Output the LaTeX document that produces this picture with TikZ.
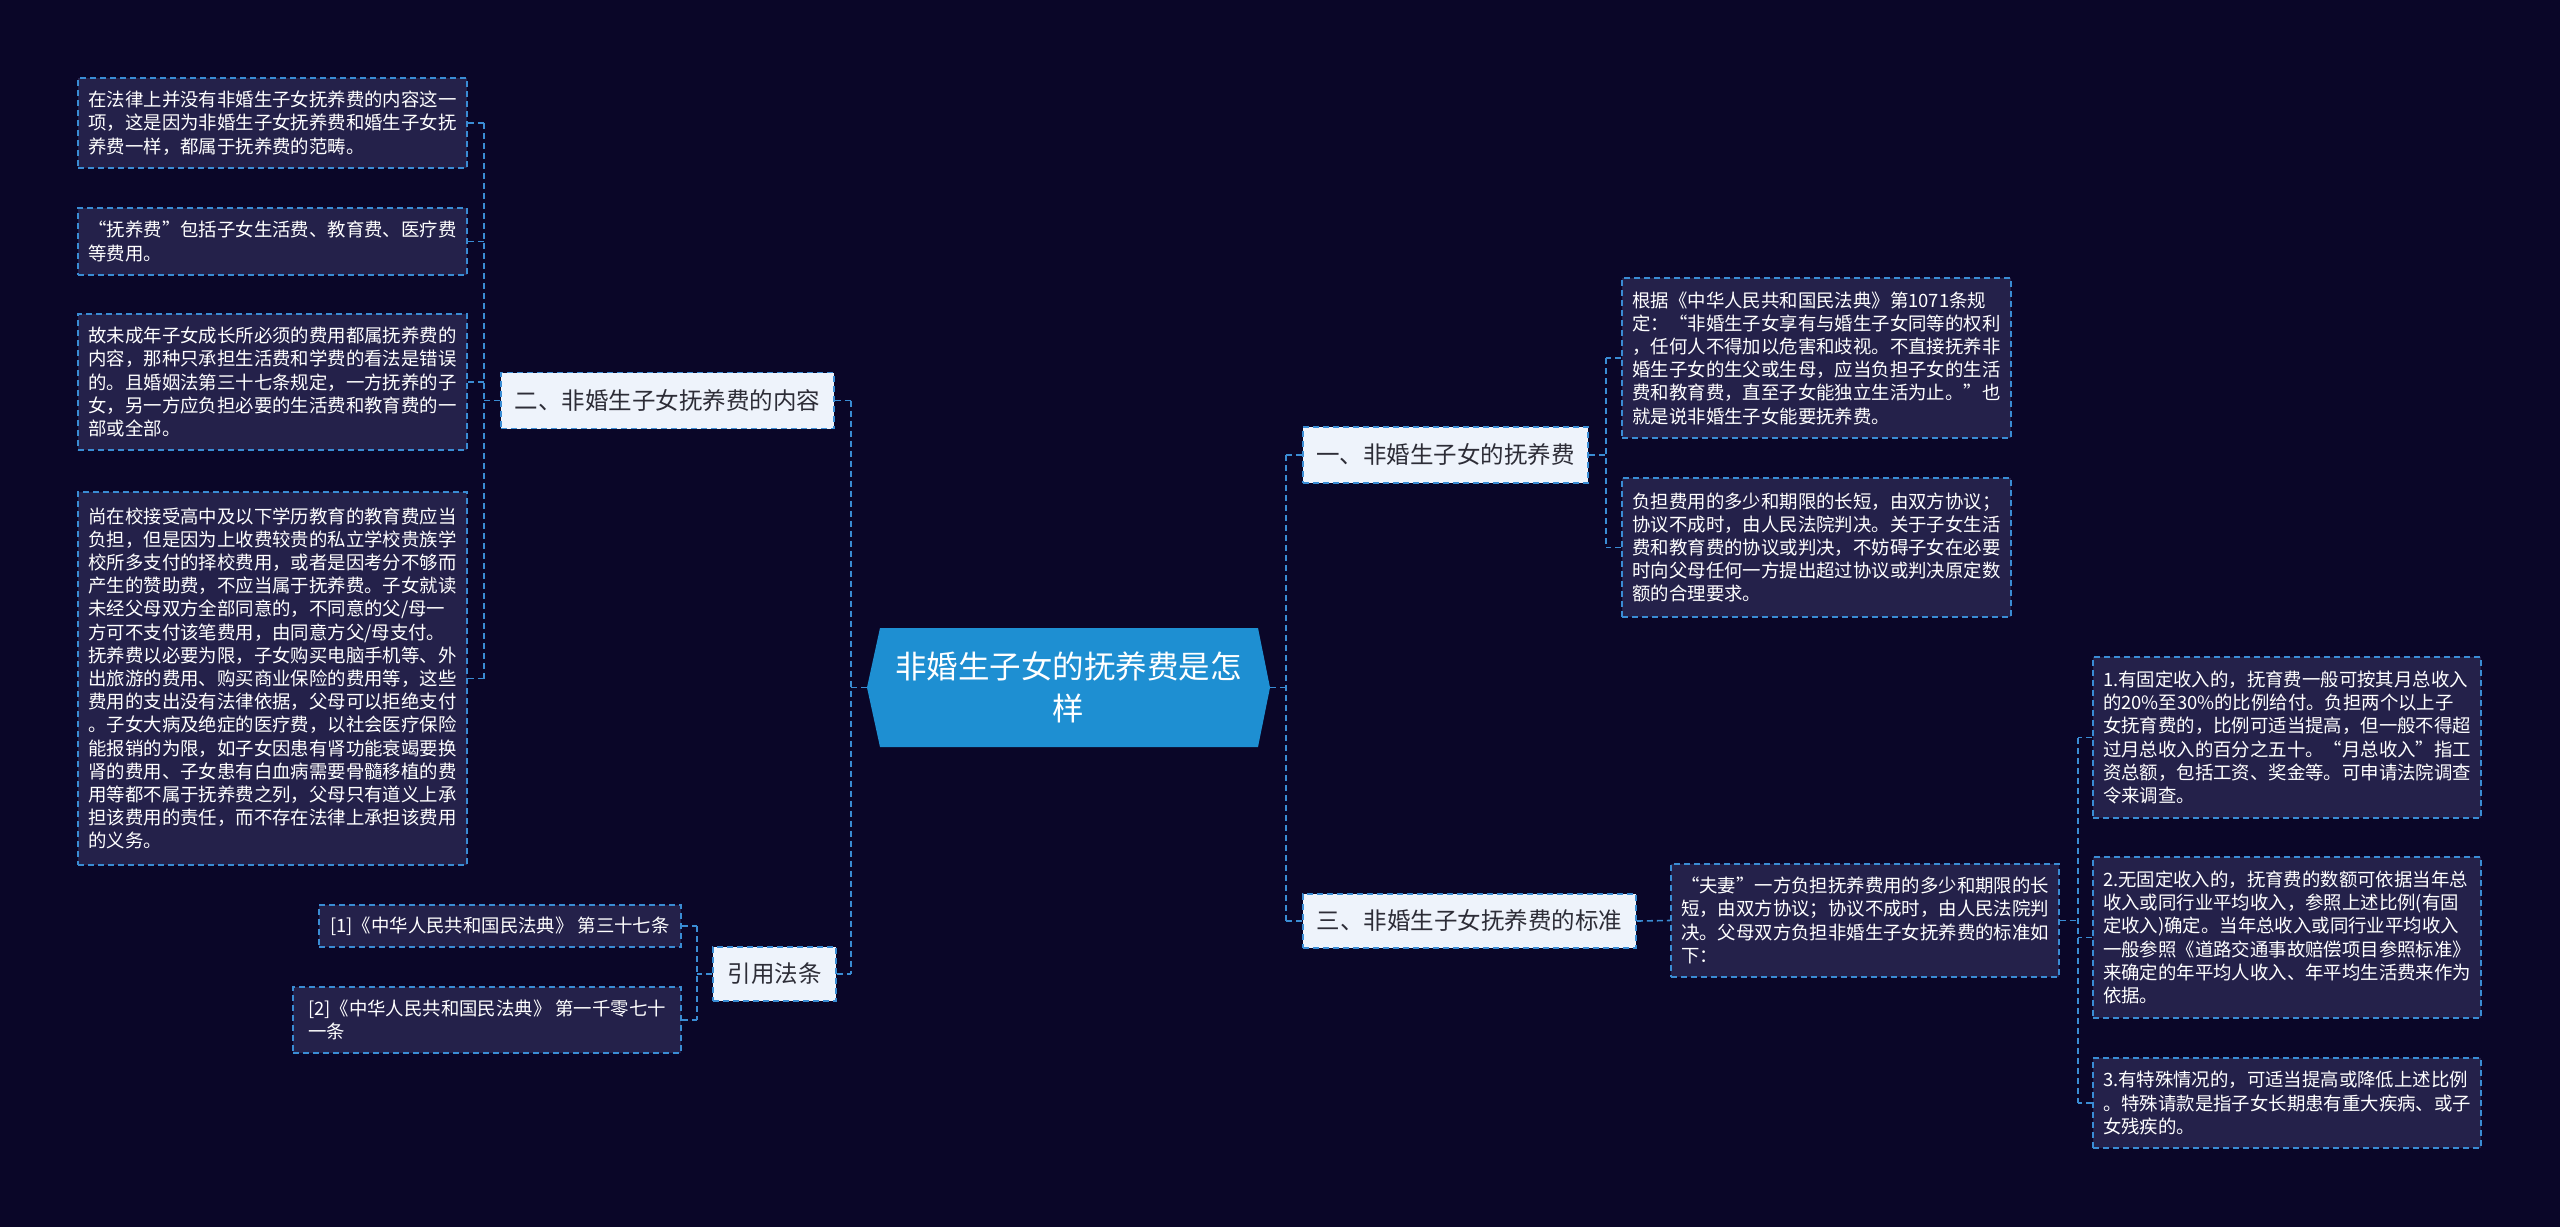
\documentclass[tikz,border=0pt]{standalone}
\usepackage{fontspec}
\setmainfont{Noto Sans CJK SC}
\usetikzlibrary{calc}
\definecolor{bgc}{RGB}{10,6,40}
\definecolor{leaffill}{RGB}{36,33,74}
\definecolor{linec}{RGB}{58,140,212}
\definecolor{branchfill}{RGB}{238,243,251}
\definecolor{branchtext}{RGB}{45,45,55}
\definecolor{centerfill}{RGB}{30,143,210}
\begin{document}
\begin{tikzpicture}[x=1pt,y=-1pt,
  leaf/.style={draw=linec, fill=leaffill, dash pattern=on 6pt off 4pt, line width=1.6pt,
    text=white, font=\fontsize{18.4}{23.2}\selectfont, align=left, inner sep=0pt},
  branch/.style={draw=linec, fill=branchfill, dash pattern=on 6pt off 4pt, line width=1.6pt,
    text=branchtext, font=\fontsize{23.5}{28}\selectfont, inner sep=0pt},
  conn/.style={draw=linec, dash pattern=on 6pt off 4pt, line width=1.6pt},
  centertext/.style={text=white, font=\fontsize{31.5}{41.5}\selectfont, align=center, inner sep=0pt}
]
\fill[bgc] (0,0) rectangle (2560,1227);
\useasboundingbox (0,0) rectangle (2560,1227);

% central node
\fill[centerfill] (880,628) -- (1258,628) -- (1270,687.5) -- (1258,747) -- (880,747) -- (867,687.5) -- cycle;
\node[centertext, minimum width=403, minimum height=119] (c) at (1068.5,687.5) {非婚生子女的抚养费是怎\\样};

% left branch: content
\node[branch, minimum width=333, minimum height=56] (b2) at (667.5,400.5) {二、非婚生子女抚养费的内容};
\node[leaf, minimum width=389, minimum height=90] (l1) at (272.5,123) {在法律上并没有非婚生子女抚养费的内容这一\\项，这是因为非婚生子女抚养费和婚生子女抚\\养费一样，都属于抚养费的范畴。};
\node[leaf, minimum width=389, minimum height=67] (l2) at (272.5,241.5) {“抚养费”包括子女生活费、教育费、医疗费\\等费用。};
\node[leaf, minimum width=389, minimum height=136] (l3) at (272.5,382) {故未成年子女成长所必须的费用都属抚养费的\\内容，那种只承担生活费和学费的看法是错误\\的。且婚姻法第三十七条规定，一方抚养的子\\女，另一方应负担必要的生活费和教育费的一\\部或全部。};
\node[leaf, minimum width=389, minimum height=373] (l4) at (272.5,678.5) {尚在校接受高中及以下学历教育的教育费应当\\负担，但是因为上收费较贵的私立学校贵族学\\校所多支付的择校费用，或者是因考分不够而\\产生的赞助费，不应当属于抚养费。子女就读\\未经父母双方全部同意的，不同意的父/母一\\方可不支付该笔费用，由同意方父/母支付。\\抚养费以必要为限，子女购买电脑手机等、外\\出旅游的费用、购买商业保险的费用等，这些\\费用的支出没有法律依据，父母可以拒绝支付\\。子女大病及绝症的医疗费，以社会医疗保险\\能报销的为限，如子女因患有肾功能衰竭要换\\肾的费用、子女患有白血病需要骨髓移植的费\\用等都不属于抚养费之列，父母只有道义上承\\担该费用的责任，而不存在法律上承担该费用\\的义务。};

% left branch: citations
\node[branch, minimum width=123, minimum height=54] (cite) at (774.5,974) {引用法条};
\node[leaf, minimum width=362, minimum height=42] (ref1) at (500,926) {[1]《中华人民共和国民法典》 第三十七条};
\node[leaf, minimum width=388, minimum height=66] (ref2) at (487,1020) {[2]《中华人民共和国民法典》 第一千零七十\\一条};

% right branch 1
\node[branch, minimum width=285, minimum height=56] (b1) at (1445.5,455) {一、非婚生子女的抚养费};
\node[leaf, minimum width=389, minimum height=160] (r1) at (1816.5,358) {根据《中华人民共和国民法典》第1071条规\\定：“非婚生子女享有与婚生子女同等的权利\\，任何人不得加以危害和歧视。不直接抚养非\\婚生子女的生父或生母，应当负担子女的生活\\费和教育费，直至子女能独立生活为止。”也\\就是说非婚生子女能要抚养费。};
\node[leaf, minimum width=389, minimum height=139] (r2) at (1816.5,547.5) {负担费用的多少和期限的长短，由双方协议；\\协议不成时，由人民法院判决。关于子女生活\\费和教育费的协议或判决，不妨碍子女在必要\\时向父母任何一方提出超过协议或判决原定数\\额的合理要求。};

% right branch 3
\node[branch, minimum width=333, minimum height=54] (b3) at (1469.5,921) {三、非婚生子女抚养费的标准};
\node[leaf, minimum width=388, minimum height=113] (r3) at (1865,920.5) {“夫妻”一方负担抚养费用的多少和期限的长\\短，由双方协议；协议不成时，由人民法院判\\决。父母双方负担非婚生子女抚养费的标准如\\下：};
\node[leaf, minimum width=388, minimum height=161] (r4) at (2287,737.5) {1.有固定收入的，抚育费一般可按其月总收入\\的20\%至30\%的比例给付。负担两个以上子\\女抚育费的，比例可适当提高，但一般不得超\\过月总收入的百分之五十。“月总收入”指工\\资总额，包括工资、奖金等。可申请法院调查\\令来调查。};
\node[leaf, minimum width=388, minimum height=161] (r5) at (2287,937.5) {2.无固定收入的，抚育费的数额可依据当年总\\收入或同行业平均收入，参照上述比例(有固\\定收入)确定。当年总收入或同行业平均收入\\一般参照《道路交通事故赔偿项目参照标准》\\来确定的年平均人收入、年平均生活费来作为\\依据。};
\node[leaf, minimum width=388, minimum height=90] (r6) at (2287,1103) {3.有特殊情况的，可适当提高或降低上述比例\\。特殊请款是指子女长期患有重大疾病、或子\\女残疾的。};

% connectors: center left
\path (c.west) ++(-16,0) coordinate (jc);
\draw[conn] (c.west) -- (jc);
\draw[conn] (jc |- b2.east) -- (jc |- cite.east);
\draw[conn] (b2.east) -- (jc |- b2.east);
\draw[conn] (cite.east) -- (jc |- cite.east);

% b2 to its leaves
\path (b2.west) ++(-16,0) coordinate (j2);
\draw[conn] (b2.west) -- (j2);
\draw[conn] (j2 |- l1.east) -- (j2 |- l4.east);
\foreach \n in {l1,l2,l3,l4} \draw[conn] (\n.east) -- (j2 |- \n.east);

% citations
\path (cite.west) ++(-15,0) coordinate (jr);
\draw[conn] (cite.west) -- (jr);
\draw[conn] (jr |- ref1.east) -- (jr |- ref2.east);
\foreach \n in {ref1,ref2} \draw[conn] (\n.east) -- (jr |- \n.east);

% center right
\path (c.east) ++(16,0) coordinate (jce);
\draw[conn] (c.east) -- (jce);
\draw[conn] (jce |- b1.west) -- (jce |- b3.west);
\foreach \n in {b1,b3} \draw[conn] (\n.west) -- (jce |- \n.west);

% b1 to leaves
\path (b1.east) ++(17,0) coordinate (j1);
\draw[conn] (b1.east) -- (j1);
\draw[conn] (j1 |- r1.west) -- (j1 |- r2.west);
\foreach \n in {r1,r2} \draw[conn] (\n.west) -- (j1 |- \n.west);

% b3 to r3
\draw[conn] (b3.east) -- (r3.west);

% r3 to leaves
\path (r3.east) ++(18,0) coordinate (j3);
\draw[conn] (r3.east) -- (j3);
\draw[conn] (j3 |- r4.west) -- (j3 |- r6.west);
\foreach \n in {r4,r5,r6} \draw[conn] (\n.west) -- (j3 |- \n.west);
\end{tikzpicture}
\end{document}
